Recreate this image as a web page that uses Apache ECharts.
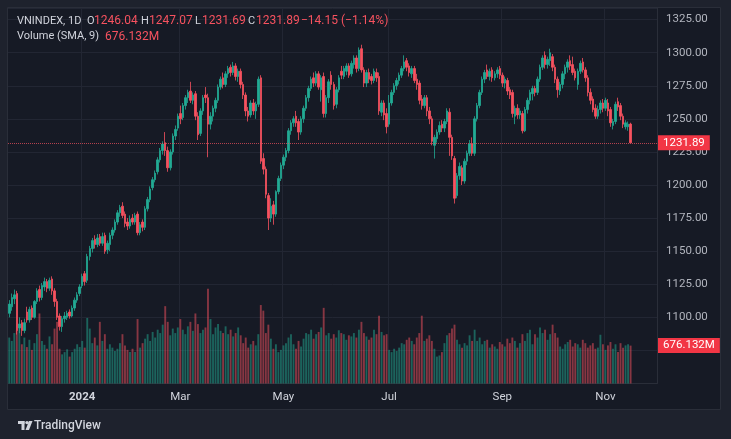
<!DOCTYPE html>
<html><head><meta charset="utf-8">
<script src="https://cdn.jsdelivr.net/npm/echarts/dist/echarts.min.js"></script>
<style>html,body{margin:0;padding:0;background:#1e222d;}#c{width:731px;height:439px;}</style>
</head><body><div id="c"></div>
<script>
// [open, close, low, high] per trading day
const ohlc = [
[1103,1110,1100,1113],[1108,1115,1105,1118],[1114,1117,1110,1121],[1118,1090,1087,1120],[1092,1095,1088,1100],
[1096,1090,1086,1098],[1090,1096,1088,1099],[1104,1098,1096,1108],[1098,1106,1096,1108],[1107,1100,1098,1109],
[1100,1112,1099,1113],[1112,1120,1110,1122],[1121,1115,1112,1124],[1115,1124,1113,1126],[1123,1127,1120,1130],
[1127,1122,1119,1129],[1122,1128,1120,1130],[1129,1120,1117,1131],[1120,1112,1108,1122],[1112,1100,1098,1114],
[1101,1093,1090,1103],[1093,1099,1089,1101],[1099,1101,1096,1104],[1100,1103,1098,1105],[1104,1101,1099,1106],
[1101,1107,1100,1109],[1107,1113,1105,1115],[1113,1117,1111,1119],[1118,1123,1116,1125],[1124,1131,1122,1133],
[1133,1127,1124,1135],[1128,1146,1126,1148],[1146,1152,1143,1154],[1152,1158,1149,1160],[1159,1155,1152,1162],
[1155,1160,1153,1163],[1161,1156,1154,1163],[1156,1161,1154,1164],[1162,1150,1148,1164],[1151,1156,1148,1158],
[1155,1162,1150,1164],[1162,1166,1159,1168],[1166,1172,1164,1174],[1172,1179,1170,1181],[1179,1183,1176,1185],
[1184,1177,1175,1187],[1178,1171,1168,1180],[1172,1169,1166,1175],[1169,1174,1167,1177],[1175,1172,1170,1178],
[1172,1177,1170,1179],[1178,1164,1162,1180],[1164,1170,1162,1172],[1172,1168,1165,1174],[1168,1182,1166,1184],
[1182,1189,1180,1191],[1189,1197,1187,1199],[1198,1204,1196,1206],[1204,1209,1202,1211],[1210,1219,1208,1221],
[1219,1226,1217,1228],[1226,1231,1223,1233],[1232,1226,1222,1240],[1226,1213,1210,1229],[1213,1225,1211,1227],
[1225,1237,1223,1239],[1237,1242,1234,1245],[1243,1252,1241,1254],[1254,1250,1246,1260],[1251,1260,1249,1262],
[1260,1266,1257,1268],[1266,1270,1262,1272],[1271,1264,1262,1278],[1264,1268,1261,1270],[1269,1252,1249,1271],
[1252,1238,1234,1255],[1239,1256,1237,1258],[1256,1266,1253,1268],[1268,1266,1262,1274],[1266,1246,1221,1269],
[1246,1252,1242,1255],[1252,1258,1248,1260],[1258,1264,1255,1266],[1264,1274,1262,1276],[1274,1280,1272,1282],
[1281,1276,1273,1285],[1276,1284,1274,1286],[1284,1288,1281,1290],[1289,1285,1282,1291],[1285,1290,1283,1293],
[1290,1282,1279,1292],[1282,1286,1278,1288],[1286,1276,1273,1288],[1276,1268,1265,1278],[1268,1256,1252,1270],
[1256,1252,1248,1259],[1253,1262,1251,1264],[1262,1256,1253,1265],[1256,1261,1250,1263],[1261,1280,1259,1282],
[1281,1218,1216,1283],[1220,1212,1208,1224],[1212,1193,1190,1214],[1192,1175,1166,1194],[1175,1184,1172,1190],
[1185,1178,1170,1188],[1178,1195,1176,1196],[1195,1205,1193,1207],[1205,1215,1203,1217],[1215,1221,1212,1223],
[1221,1226,1218,1228],[1226,1241,1224,1243],[1241,1247,1238,1249],[1247,1250,1244,1252],[1252,1247,1244,1256],
[1248,1240,1234,1250],[1240,1250,1238,1252],[1250,1258,1247,1260],[1258,1266,1256,1268],[1266,1273,1263,1275],
[1273,1280,1271,1282],[1281,1277,1274,1285],[1277,1284,1275,1286],[1284,1274,1272,1286],[1272,1281,1263,1283],
[1282,1254,1251,1285],[1254,1266,1251,1268],[1266,1278,1262,1280],[1283,1276,1272,1286],[1276,1260,1257,1278],
[1261,1272,1258,1274],[1272,1281,1270,1283],[1286,1283,1280,1290],[1282,1288,1280,1290],[1286,1290,1283,1292],
[1290,1283,1281,1292],[1284,1292,1282,1294],[1291,1296,1288,1298],[1296,1288,1285,1298],[1288,1302,1286,1304],
[1303,1287,1285,1306],[1287,1277,1274,1289],[1277,1285,1274,1287],[1285,1280,1277,1288],[1282,1279,1276,1284],
[1279,1286,1277,1288],[1285,1281,1278,1288],[1282,1256,1253,1285],[1255,1262,1252,1264],[1262,1253,1249,1264],
[1254,1244,1239,1258],[1246,1262,1244,1268],[1262,1270,1260,1272],[1270,1275,1268,1277],[1275,1279,1272,1281],
[1279,1283,1276,1285],[1283,1288,1281,1290],[1288,1293,1286,1298],[1294,1289,1286,1296],[1290,1285,1282,1292],
[1284,1288,1281,1290],[1288,1279,1277,1290],[1280,1276,1272,1284],[1277,1264,1261,1279],[1265,1260,1257,1268],
[1260,1266,1258,1268],[1266,1256,1252,1268],[1256,1250,1246,1259],[1250,1233,1230,1252],[1230,1236,1220,1238],
[1235,1240,1232,1242],[1240,1245,1238,1248],[1246,1243,1240,1249],[1243,1248,1240,1250],[1248,1256,1246,1258],
[1255,1236,1222,1258],[1236,1222,1219,1238],[1220,1190,1186,1222],[1192,1207,1190,1209],[1207,1214,1204,1217],
[1213,1203,1200,1215],[1203,1218,1201,1220],[1218,1224,1215,1226],[1224,1231,1222,1234],[1231,1224,1222,1236],
[1224,1250,1222,1252],[1250,1260,1248,1262],[1260,1270,1258,1272],[1270,1280,1268,1282],[1280,1285,1277,1287],
[1287,1282,1280,1291],[1282,1286,1279,1288],[1287,1281,1278,1289],[1281,1284,1279,1286],[1284,1287,1281,1289],
[1288,1283,1280,1290],[1283,1277,1274,1285],[1277,1280,1273,1282],[1279,1271,1268,1281],[1272,1268,1265,1274],
[1270,1254,1251,1272],[1252,1258,1246,1260],[1258,1253,1250,1261],[1253,1256,1250,1258],[1254,1241,1239,1256],
[1241,1257,1240,1259],[1257,1264,1254,1266],[1264,1270,1261,1272],[1269,1273,1264,1275],[1273,1270,1267,1275],
[1270,1280,1268,1282],[1280,1289,1278,1291],[1289,1296,1287,1298],[1298,1291,1288,1301],[1291,1295,1288,1297],
[1294,1300,1290,1303],[1297,1289,1286,1299],[1289,1280,1277,1291],[1280,1272,1266,1282],[1271,1276,1268,1278],
[1276,1284,1273,1286],[1284,1289,1280,1291],[1289,1293,1285,1295],[1294,1290,1287,1298],[1291,1285,1283,1297],
[1286,1281,1279,1288],[1276,1286,1272,1288],[1286,1292,1284,1294],[1293,1287,1285,1296],[1287,1281,1278,1289],
[1281,1270,1267,1283],[1270,1264,1261,1273],[1265,1257,1255,1267],[1258,1252,1250,1261],[1252,1257,1250,1260],
[1257,1262,1254,1264],[1262,1258,1255,1265],[1258,1264,1256,1266],[1262,1256,1252,1265],[1257,1247,1244,1259],
[1245,1248,1242,1250],[1248,1261,1246,1263],[1263,1259,1256,1266],[1260,1252,1249,1262],[1252,1246,1243,1254],
[1244,1247,1242,1249],[1244,1246,1241,1248],[1246.04,1231.89,1231.69,1247.07]
];
// volume, millions
const volumes = [
820,760,900,950,1050,700,820,650,780,600,
720,880,1250,760,690,620,840,700,980,1100,
620,520,560,610,480,560,620,700,650,760,
640,1170,980,720,820,680,1100,760,880,620,
700,640,580,620,720,880,680,600,560,620,
560,1150,640,720,800,880,760,920,820,960,
900,1050,1380,1100,860,980,900,1000,1150,960,
880,1020,1100,940,1250,1060,900,960,1000,1690,
1150,880,1000,1060,940,900,1020,880,960,840,
900,1000,860,720,820,640,700,760,680,880,
1400,1300,900,1050,800,620,700,560,600,680,
720,820,880,700,620,760,660,800,900,880,
960,800,880,920,1000,1350,860,900,800,880,
820,950,900,880,780,860,840,900,820,960,
1100,900,840,780,820,960,880,1210,920,860,
880,600,560,620,580,640,720,700,780,820,
760,700,820,900,1210,760,800,860,760,620,
480,500,560,720,860,900,980,1050,780,700,
640,720,680,860,760,960,760,820,700,760,
780,640,700,660,620,740,700,660,800,720,
820,760,640,720,880,760,900,960,700,880,
820,1000,900,960,780,880,1050,900,820,660,
620,700,740,780,660,720,700,640,780,720,
640,680,720,620,640,870,700,600,680,740,
620,700,560,720,640,680,700,676.132
];
const timeTickIndex = [29, 68, 109, 151, 196, 237];
const timeTickLabels = ['2024', 'Mar', 'May', 'Jul', 'Sep', 'Nov'];
const priceMin = 1050, priceMax = 1333.77, priceStep = 25, firstPriceLabel = 1075;
const lastPrice = 1231.89, lastVolume = 676.132;
const SLOTS = 258; // trading days plus right-side margin

const UP = '#22ab94', DOWN = '#f7525f';
const FONT = 'Roboto, "Noto Sans", sans-serif';
const categories = Array.from({length: SLOTS}, (_, i) => String(i));
const labelMap = {};
timeTickIndex.forEach((idx, k) => { labelMap[String(idx)] = timeTickLabels[k]; });
const tickSet = new Set(timeTickIndex);
const showTick = (i) => tickSet.has(i);

const volData = volumes.map((v, i) => ({
  value: v,
  itemStyle: {color: ohlc[i][1] >= ohlc[i][0] ? 'rgba(34,171,148,0.5)' : 'rgba(247,82,95,0.5)'}
}));

const last = ohlc[ohlc.length - 1];
function txt(x, y, text, fill, size) {
  return {type: 'text', x: x, y: y, z: 50,
    style: {text: text, fill: fill, font: size + 'px ' + FONT, verticalAlign: 'middle', textVerticalAlign: 'middle'}};
}

const chart = echarts.init(document.getElementById('c'), null, {renderer: 'canvas'});
chart.setOption({
  animation: false,
  backgroundColor: '#1e222d',
  textStyle: {fontFamily: FONT},
  grid: {left: 8, right: 74, top: 8, bottom: 55.5, containLabel: false, outerBoundsMode: 'none'},
  xAxis: {
    type: 'category', data: categories, boundaryGap: true,
    axisLine: {show: true, lineStyle: {color: '#2a2e39'}},
    axisTick: {show: false},
    axisLabel: {
      interval: showTick, margin: 8, color: '#d1d4dc', fontSize: 11.5, fontFamily: FONT,
      formatter: (v) => labelMap[v] === '2024' ? '{b|2024}' : (labelMap[v] || ''),
      rich: {b: {fontWeight: 'bold', color: '#d1d4dc', fontSize: 11.5, fontFamily: FONT}}
    },
    splitLine: {show: true, interval: showTick, lineStyle: {color: '#222633', width: 1}}
  },
  yAxis: [{
    type: 'value', position: 'right', min: priceMin, max: priceMax, interval: priceStep, scale: true,
    axisLine: {show: true, lineStyle: {color: '#2a2e39'}},
    axisTick: {show: false},
    axisLabel: {
      margin: 9, color: '#b2b5be', fontSize: 11.5, fontFamily: FONT,
      formatter: (v) => (Math.abs(v % priceStep) < 1e-6 && v >= firstPriceLabel) ? v.toFixed(2) : ''
    },
    splitLine: {show: true, lineStyle: {color: '#222633', width: 1}}
  }, {
    type: 'value', min: 0, max: 6700, show: false,
    axisLine: {show: false}, axisLabel: {show: false}, splitLine: {show: false}
  }],
  series: [{
    type: 'bar', xAxisIndex: 0, yAxisIndex: 1, data: volData, barWidth: 1.9, z: 2,
    markLine: {
      silent: true, symbol: ['none', 'none'], z: 10,
      lineStyle: {color: 'rgba(0,0,0,0)', width: 1, type: 'solid'},
      label: {show: true, position: 'end', distance: 1, formatter: lastVolume.toFixed(3) + 'M',
        color: '#ffffff', backgroundColor: '#f23645', padding: [2, 5, 1, 5], fontSize: 11.5, fontFamily: FONT},
      data: [{yAxis: lastVolume}]
    }
  }, {
    type: 'candlestick', xAxisIndex: 0, yAxisIndex: 0, data: ohlc, barWidth: 2, z: 5,
    itemStyle: {color: UP, color0: DOWN, borderColor: UP, borderColor0: DOWN, borderWidth: 0.8},
    markLine: {
      silent: true, symbol: ['none', 'none'], z: 10,
      lineStyle: {color: 'rgba(247,82,95,0.7)', type: [1, 1], width: 1},
      label: {show: true, position: 'end', distance: 1, formatter: lastPrice.toFixed(2),
        color: '#ffffff', backgroundColor: '#f23645', padding: [2, 5, 1, 5], fontSize: 11.5, fontFamily: FONT},
      data: [{yAxis: lastPrice}]
    }
  }],
  graphic: [
    {type: 'rect', z: -100, shape: {x: 7.5, y: 7.5, width: 713, height: 402},
      style: {fill: '#161a25', stroke: '#2a2e39', lineWidth: 1}},
    txt(17, 21, 'VNINDEX, 1D', '#d1d4dc', 11),
    txt(87, 21, 'O', '#d1d4dc', 11),
    txt(94, 21, last[0].toFixed(2), DOWN, 12),
    txt(141, 21, 'H', '#d1d4dc', 11),
    txt(149, 21, last[3].toFixed(2), DOWN, 12),
    txt(195, 21, 'L', '#d1d4dc', 11),
    txt(202, 21, last[2].toFixed(2), DOWN, 12),
    txt(248, 21, 'C', '#d1d4dc', 11),
    txt(256, 21, last[1].toFixed(2), DOWN, 12),
    txt(301, 21, '\u221214.15 (\u22121.14%)', DOWN, 12),
    txt(17, 36.5, 'Volume (SMA, 9)', '#d1d4dc', 11),
    txt(105, 36.5, lastVolume.toFixed(3) + 'M', DOWN, 12),
    {type: 'rect', z: 50, shape: {x: 18, y: 421, width: 6.5, height: 3}, style: {fill: '#d1d4dc'}},
    {type: 'rect', z: 50, shape: {x: 21.5, y: 421, width: 3, height: 9}, style: {fill: '#d1d4dc'}},
    {type: 'circle', z: 50, shape: {cx: 27, cy: 422.6, r: 1.7}, style: {fill: '#d1d4dc'}},
    {type: 'polygon', z: 50, shape: {points: [[25.5, 430], [29, 421], [32.5, 421], [29, 430]]}, style: {fill: '#d1d4dc'}},
    {type: 'text', x: 34, y: 426, z: 50, style: {text: 'TradingView', fill: '#d1d4dc', font: '500 12px ' + FONT, verticalAlign: 'middle', textVerticalAlign: 'middle'}}
  ]
});
</script>
</body></html>
